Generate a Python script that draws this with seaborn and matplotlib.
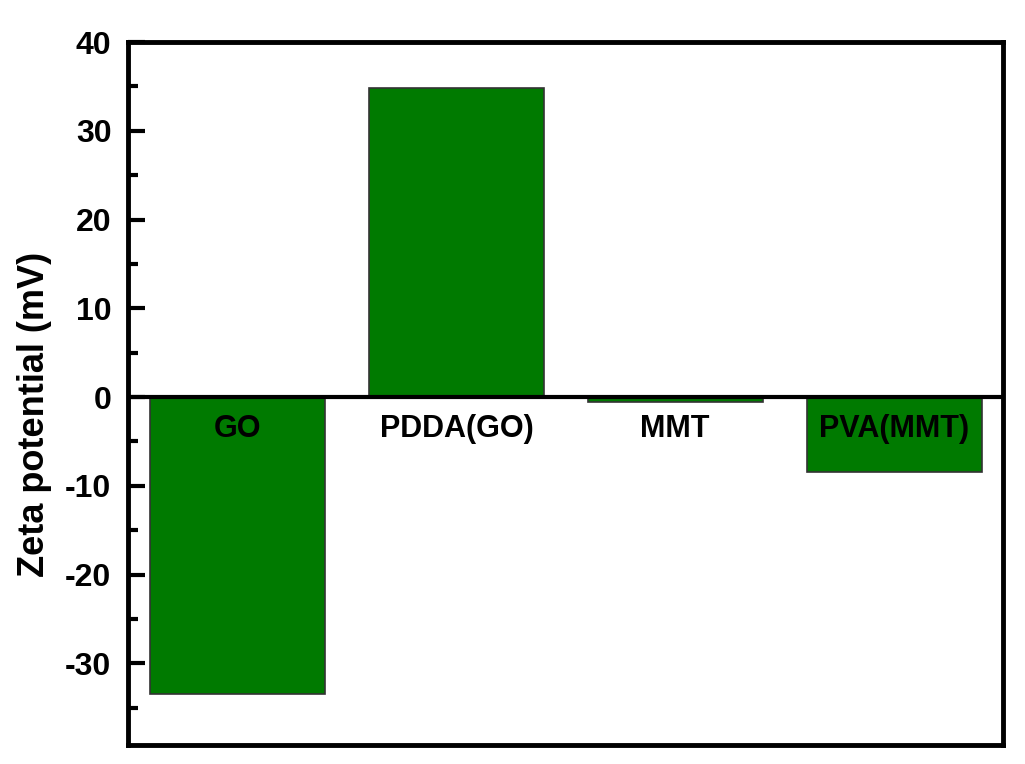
import pandas as pd
import matplotlib.pyplot as plt
import seaborn as sns
from matplotlib.ticker import MultipleLocator

# Dados
amostras = ['GO', 'PDDA(GO)', 'MMT', 'PVA(MMT)']
zeta = [-33.5, 34.8, -0.6, -8.4]

dt = pd.DataFrame({'Amostra': amostras, 'Zeta': zeta})

sns.set_style('ticks')
plt.rcParams['font.family'] = ['Liberation Sans', 'DejaVu Sans']
plt.rcParams['font.weight'] = 'bold'
plt.rcParams['axes.unicode_minus'] = False
plt.rcParams['text.color'] = 'black'
plt.rcParams['axes.labelcolor'] = 'black'
plt.rcParams['ytick.color'] = 'black'

fig = plt.figure(figsize=(10.25, 7.64), dpi=100)
ax = fig.add_axes([0.125, 0.025, 0.854, 0.92])

sns.barplot(x='Amostra', y='Zeta', data=dt, color='#007a00', saturation=1,
            width=0.8, edgecolor='#333333', linewidth=1.2, ax=ax)

ax.axhline(0, color='black', lw=3, zorder=3)

# Rótulos dentro do gráfico
for i, nome in enumerate(amostras):
    ax.text(i, -3.6, nome, ha='center', va='center', fontsize=22,
            fontweight='bold', color='black')

ax.set_xlim(-0.5, 3.5)
ax.set_ylim(-39.2, 40)
ax.set_xticks([])
ax.set_xlabel('')
ax.set_ylabel('Zeta potential (mV)', fontsize=26, fontweight='bold')
ax.yaxis.set_label_coords(-0.087, 0.47)
ax.yaxis.set_major_locator(MultipleLocator(10))
ax.yaxis.set_minor_locator(MultipleLocator(5))
ax.tick_params(axis='y', which='major', direction='in', length=12, width=3,
               labelsize=23, pad=12, labelcolor='black')
ax.tick_params(axis='y', which='minor', direction='in', length=7, width=3)
ax.tick_params(axis='y', right=False)
for lab in ax.get_yticklabels():
    lab.set_fontweight('bold')
for s in ax.spines.values():
    s.set_visible(True)
    s.set_linewidth(3.5)
    s.set_color('black')

plt.savefig('out.png', dpi=100)
plt.close()
